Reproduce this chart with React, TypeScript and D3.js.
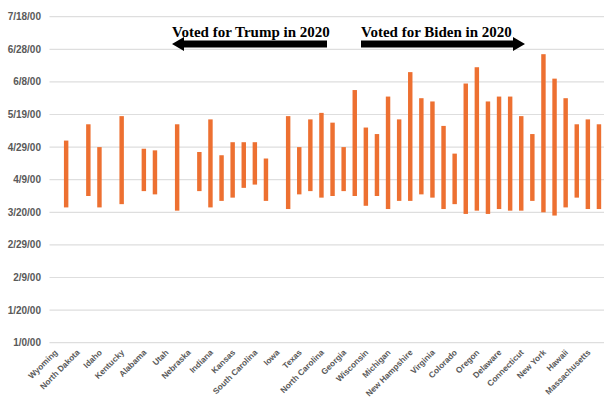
import React from "react";
import * as d3 from "d3";

// States ordered from strongest Trump support (left) to strongest Biden support (right)
const states = [
  "Wyoming", "West Virginia", "North Dakota", "Oklahoma", "Idaho", "Arkansas",
  "Kentucky", "South Dakota", "Alabama", "Tennessee", "Utah", "Louisiana",
  "Nebraska", "Mississippi", "Indiana", "Montana", "Kansas", "Missouri",
  "South Carolina", "Alaska", "Iowa", "Ohio", "Texas", "Florida",
  "North Carolina", "Arizona", "Georgia", "Pennsylvania", "Wisconsin", "Nevada",
  "Michigan", "Minnesota", "New Hampshire", "New Mexico", "Virginia", "New Jersey",
  "Colorado", "Maine", "Oregon", "Illinois", "Delaware", "Washington",
  "Connecticut", "Rhode Island", "New York", "California", "Hawaii", "Maryland",
  "Massachusetts", "Vermont",
];

// Order start / end as day serials (day 0 = 1/0/00); null = no order
const startDay: (number | null)[] = [
  null, 83, null, 90, 83, null,
  85, null, 93, 91, null, 81,
  null, 93, 83, 87, 89, 95,
  97, 87, null, 82, 91, 93,
  89, 90, 93, 90, 84, 90,
  82, 87, 87, 91, 89, 82,
  85, 79, 81, 79, 82, 81,
  81, 87, 80, 78, 83, 89,
  82, 82,
];
const endDay: (number | null)[] = [
  null, 124, null, 134, 120, null,
  139, null, 119, 118, null, 134,
  null, 117, 137, 115, 123, 123,
  123, 113, null, 139, 120, 137,
  141, 135, 120, 155, 132, 128,
  151, 137, 166, 150, 148, 133,
  116, 159, 169, 148, 151, 151,
  139, 128, 177, 162, 150, 134,
  137, 134,
];

const yTicks = [0, 20, 40, 60, 80, 100, 120, 140, 160, 180, 200];
const yTickLabels = [
  "1/0/00", "1/20/00", "2/9/00", "2/29/00", "3/20/00", "4/9/00",
  "4/29/00", "5/19/00", "6/8/00", "6/28/00", "7/18/00",
];

const trumpNote = "Voted for Trump in 2020";
const bidenNote = "Voted for Biden in 2020";

const W = 604;
const H = 400;
const left = 49.5;
const right = 604.5;
const top = 16.7;
const bottom = 342.7;

const barColor = "#ed7031";
const gridColor = "#dedede";
const labelColor = "#595959";
const sansFont = "'Liberation Sans', Arial, sans-serif";
const serifFont = "'Liberation Serif', 'Times New Roman', serif";

export default function App() {
  const x = d3.scaleBand<string>().domain(states).range([left, right]).padding(0);
  const y = d3.scaleLinear().domain([0, 200]).range([bottom, top]);
  const step = x.step();
  const barW = step * 0.4;

  const shaftTop = 40.5;
  const shaftBottom = 47.5;
  const midY = (shaftTop + shaftBottom) / 2;
  const headHalf = 7;
  const headLen = 12;

  // left-pointing arrow (Trump side)
  const trumpArrow = d3.path();
  trumpArrow.moveTo(172, midY);
  trumpArrow.lineTo(172 + headLen, midY - headHalf);
  trumpArrow.lineTo(172 + headLen, shaftTop);
  trumpArrow.lineTo(327, shaftTop);
  trumpArrow.lineTo(327, shaftBottom);
  trumpArrow.lineTo(172 + headLen, shaftBottom);
  trumpArrow.lineTo(172 + headLen, midY + headHalf);
  trumpArrow.closePath();

  // right-pointing arrow (Biden side)
  const bidenArrow = d3.path();
  bidenArrow.moveTo(361, shaftTop);
  bidenArrow.lineTo(525 - headLen, shaftTop);
  bidenArrow.lineTo(525 - headLen, midY - headHalf);
  bidenArrow.lineTo(525, midY);
  bidenArrow.lineTo(525 - headLen, midY + headHalf);
  bidenArrow.lineTo(525 - headLen, shaftBottom);
  bidenArrow.lineTo(361, shaftBottom);
  bidenArrow.closePath();

  return (
    <svg
      width={W}
      height={H}
      viewBox={`0 0 ${W} ${H}`}
      style={{ position: "absolute", left: 0, top: 0, background: "#fff" }}
    >
      <rect x={0} y={0} width={W} height={H} fill="#fff" />

      {/* gridlines and y tick labels */}
      {yTicks.map((t, i) => (
        <g key={t}>
          <line x1={left} x2={W} y1={y(t)} y2={y(t)} stroke={gridColor} strokeWidth={1.2} />
          <text
            x={41}
            y={y(t)}
            dy="0.35em"
            textAnchor="end"
            fontFamily={sansFont}
            fontWeight="bold"
            fontSize={10}
            fill={labelColor}
          >
            {yTickLabels[i]}
          </text>
        </g>
      ))}

      {/* floating bars: start to end of each order */}
      {states.map((s, i) => {
        const a = startDay[i];
        const b = endDay[i];
        if (a == null || b == null) return null;
        const cx = (x(s) as number) + step / 2;
        return (
          <rect
            key={s}
            x={cx - barW / 2}
            y={y(b)}
            width={barW}
            height={y(a) - y(b)}
            fill={barColor}
          />
        );
      })}

      {/* category labels, every other state */}
      {states.map((s, i) => {
        if (i % 2 !== 0) return null;
        const cx = (x(s) as number) + step / 2;
        return (
          <text
            key={s}
            transform={`translate(${cx + 1},${351}) rotate(-45)`}
            dy="0.35em"
            textAnchor="end"
            fontFamily={sansFont}
            fontWeight="bold"
            fontSize={8.3}
            fill={labelColor}
          >
            {s}
          </text>
        );
      })}

      {/* annotations */}
      <text x={172} y={37} fontFamily={serifFont} fontWeight="bold" fontSize={15} fill="#000">
        {trumpNote}
      </text>
      <path d={trumpArrow.toString()} fill="#000" />
      <text x={361} y={37} fontFamily={serifFont} fontWeight="bold" fontSize={15} fill="#000">
        {bidenNote}
      </text>
      <path d={bidenArrow.toString()} fill="#000" />
    </svg>
  );
}
